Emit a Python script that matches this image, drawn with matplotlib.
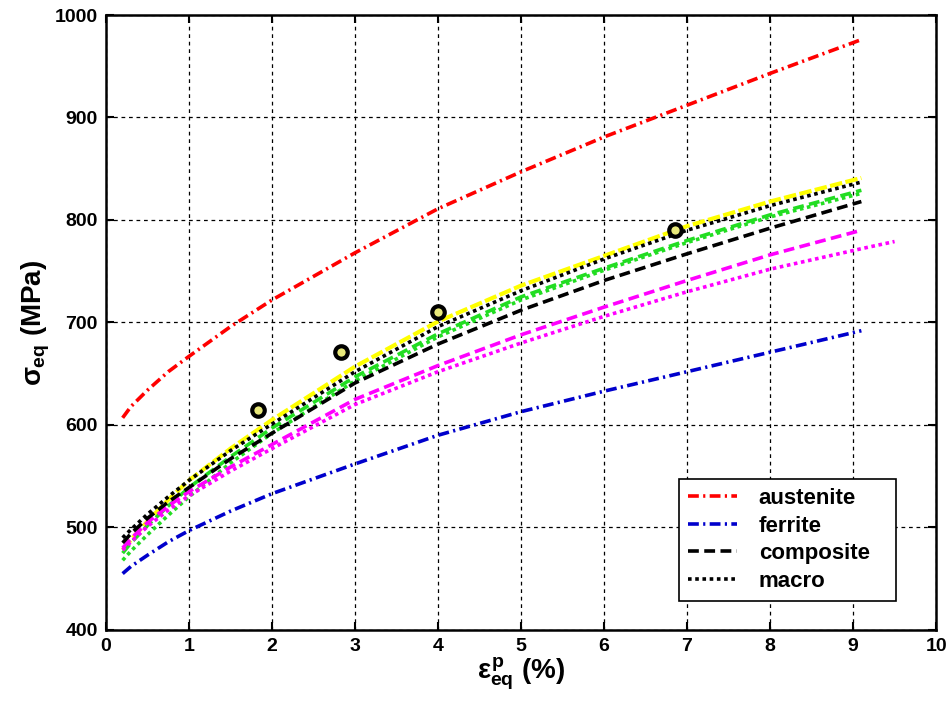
import matplotlib
matplotlib.use("Agg")
import matplotlib.pyplot as plt
import numpy as np

plt.rcParams['font.family'] = ['Liberation Sans', 'DejaVu Sans']
plt.rcParams['font.weight'] = 'bold'
plt.rcParams['mathtext.fontset'] = 'custom'
plt.rcParams['mathtext.rm'] = 'Liberation Sans:bold'
plt.rcParams['mathtext.it'] = 'Liberation Sans:bold'
plt.rcParams['mathtext.bf'] = 'Liberation Sans:bold'

# plastic strain (%) where the curves were read
eps = [0.2, 0.3, 0.5, 0.75, 1, 1.5, 2, 3, 4, 5, 6, 7, 8, 9.1]
eps_long = eps + [9.5]

austenite = [607, 618, 634, 652, 667, 696, 722, 768, 811, 847, 881, 912, 943, 976]
ferrite = [455, 462, 473, 486, 497, 516, 533, 562, 590, 613, 633, 652, 671, 692]
composite = [485, 494, 509, 525, 539, 567, 592, 641, 679, 712, 741, 767, 792, 818]
macro = [490, 498, 513, 530, 546, 575, 601, 652, 696, 731, 762, 790, 814, 837]
yellow_c = [478, 488, 506, 527, 546, 577, 605, 657, 701, 736, 765, 794, 818, 841]
green_dash = [475, 485, 502, 521, 539, 569, 597, 647, 689, 725, 753, 780, 805, 829]
green_dot = [468, 477, 493, 512, 530, 563, 592, 643, 686, 722, 751, 778, 803, 826]
magenta_dash = [480, 489, 505, 521, 535, 559, 581, 625, 658, 688, 715, 741, 766, 790]
magenta_dot = [478, 486, 501, 517, 531, 555, 577, 620, 652, 680, 706, 730, 752, 772, 779]

# experimental points
exp_eps = [1.83, 2.83, 4.0, 6.85]
exp_sig = [615, 671, 710, 790]

fig = plt.figure(figsize=(9.51, 7.01), dpi=100)
ax = fig.add_axes([0.1115, 0.1013, 0.8728, 0.8773])

lw = 2.6
dashdot = (0, (3, 1.2, 0.6, 1.2))
ax.plot(eps, yellow_c, color='yellow', lw=3, linestyle=(0, (3, 0.8)))
ax.plot(eps, green_dot, color='#22dd22', lw=lw, linestyle=(0, (1, 1)))
ax.plot(eps, green_dash, color='#22dd22', lw=lw, linestyle=(0, (3, 1.5)))
ax.plot(eps, magenta_dash, color='magenta', lw=lw, linestyle=(0, (3, 1.5)))
ax.plot(eps_long, magenta_dot, color='magenta', lw=lw, linestyle=(0, (1, 1)))
ax.plot(eps, austenite, color='red', lw=lw, linestyle=dashdot, label='austenite')
ax.plot(eps, ferrite, color='#0000cc', lw=lw, linestyle=dashdot, label='ferrite')
ax.plot(eps, composite, color='black', lw=lw, linestyle=(0, (3, 1.5)), label='composite')
ax.plot(eps, macro, color='black', lw=lw, linestyle=(0, (1, 1)), label='macro')
ax.plot(exp_eps, exp_sig, 'o', ms=9, mew=3, mec='black', mfc='#e8e87a')

ax.set_xlim(0, 10)
ax.set_ylim(400, 1000)
ax.set_xticks(np.arange(0, 11, 1))
ax.set_yticks(np.arange(400, 1001, 100))
ax.grid(True, color='black', linestyle=(0, (3, 3)), linewidth=0.9)
ax.tick_params(direction='in', top=True, right=True, length=6, width=1.5,
               labelsize=14, pad=6)
for s in ax.spines.values():
    s.set_linewidth(1.8)

ax.set_xlabel(r'$ε^{p}_{eq}$ (%)', fontsize=20, fontweight='bold', labelpad=0)
ax.set_ylabel(r'$σ_{eq}$ (MPa)', fontsize=20, fontweight='bold', labelpad=2)

leg = ax.legend(loc='upper left', bbox_to_anchor=(0.69, 0.052, 0.262, 0.1935),
                mode='expand', fancybox=False,
                edgecolor='black', framealpha=1, fontsize=16, handlelength=2.2,
                borderpad=0.4, labelspacing=0.3, handletextpad=1.0,
                borderaxespad=0)
leg.get_frame().set_linewidth(1.2)

fig.savefig('out.png', dpi=100)
